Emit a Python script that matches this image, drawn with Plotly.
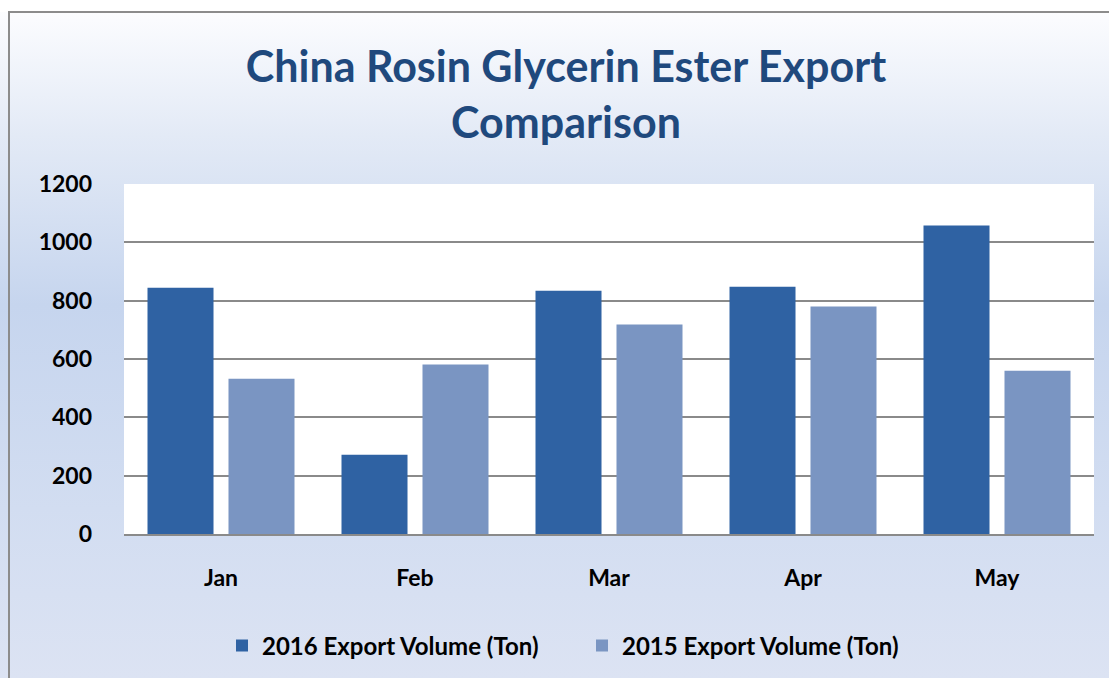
import base64
import plotly.graph_objects as go

months = ["Jan", "Feb", "Mar", "Apr", "May"]
export_2016 = [844, 272, 834, 848, 1058]
export_2015 = [532, 581, 718, 780, 560]
series_names = ["2016 Export Volume (Ton)", "2015 Export Volume (Ton)"]
y_ticks = [0, 200, 400, 600, 800, 1000, 1200]

W, H = 1109, 678
L, R, T, B = 124, 15, 184, 144
pw, ph = W - L - R, H - T - B

svg = f'''<svg xmlns="http://www.w3.org/2000/svg" width="{W}" height="{H}" preserveAspectRatio="none" viewBox="0 0 {W} {H}">
<defs><linearGradient id="g" x1="0" y1="0" x2="0" y2="1">
<stop offset="0" stop-color="#FFFFFF"/>
<stop offset="0.03" stop-color="#FAFBFE"/>
<stop offset="0.20" stop-color="#E3EAF6"/>
<stop offset="0.45" stop-color="#C6D5EE"/>
<stop offset="0.75" stop-color="#D2DDF1"/>
<stop offset="1" stop-color="#DCE3F3"/>
</linearGradient></defs>
<rect x="0" y="0" width="{W}" height="{H}" fill="url(#g)"/>
<rect x="0" y="0" width="{W}" height="12" fill="#FFFFFF"/>
</svg>'''
bg_uri = "data:image/svg+xml;base64," + base64.b64encode(svg.encode()).decode()

def px_x(p):
    return (p - L) / pw

def px_y(p):
    return (H - B - p) / ph

bold = dict(color="#000000", family="Lato, sans-serif", weight="bold")

fig = go.Figure()
fig.add_trace(go.Bar(x=months, y=export_2016, name=series_names[0],
                     marker=dict(color="#2F62A3", line=dict(width=0))))
fig.add_trace(go.Bar(x=months, y=export_2015, name=series_names[1],
                     marker=dict(color="#7A95C2", line=dict(width=0))))

fig.update_layout(
    width=W, height=H,
    margin=dict(l=L, r=R, t=T, b=B, autoexpand=False),
    paper_bgcolor="#FFFFFF",
    plot_bgcolor="rgba(0,0,0,0)",
    barmode="group",
    bargap=0.165,
    bargroupgap=0.185,
    font=dict(family="Lato, 'Open Sans', sans-serif", color="#000000"),
    title=dict(
        text="<b>China Rosin Glycerin Ester Export<br>Comparison</b>",
        font=dict(family="Lato, sans-serif", size=43, color="#1F497D"),
        x=566 / W, xanchor="center",
        y=1 - 82 / H, yanchor="middle",
    ),
    xaxis=dict(
        showgrid=False,
        showline=True, linecolor="#8A8A8A", linewidth=2,
        ticks="", tickfont=dict(size=23, **bold),
        ticklabelstandoff=22,
    ),
    yaxis=dict(
        range=[0, 1200], tickvals=y_ticks,
        showgrid=True, gridcolor="#8A8A8A", gridwidth=1.5,
        zeroline=False, showline=False,
        tickfont=dict(size=23, **bold),
        ticklabelstandoff=31,
    ),
    legend=dict(
        orientation="h", x=px_x(222), xanchor="left",
        y=px_y(646), yanchor="middle",
        font=dict(size=24, **bold),
        bgcolor="rgba(0,0,0,0)", itemwidth=30, tracegroupgap=0,
        entrywidth=315, entrywidthmode="pixels",
    ),
    images=[dict(
        source=bg_uri, xref="paper", yref="paper",
        x=px_x(0), y=px_y(0), sizex=W / pw, sizey=H / ph,
        xanchor="left", yanchor="top", sizing="stretch", layer="below",
    )],
    shapes=[
        dict(type="rect", xref="paper", yref="paper", x0=0, x1=1, y0=0, y1=1,
             fillcolor="#FFFFFF", line=dict(width=0), layer="below"),
        dict(type="rect", xref="paper", yref="paper",
             x0=px_x(9), x1=px_x(1120), y0=px_y(12), y1=px_y(700),
             fillcolor="rgba(0,0,0,0)", line=dict(color="#8C8C8C", width=2), layer="below"),
    ],
)

fig.write_html("out.html", config={"displayModeBar": False},
               post_script="document.body.style.margin='0';document.body.style.overflow='hidden';")
